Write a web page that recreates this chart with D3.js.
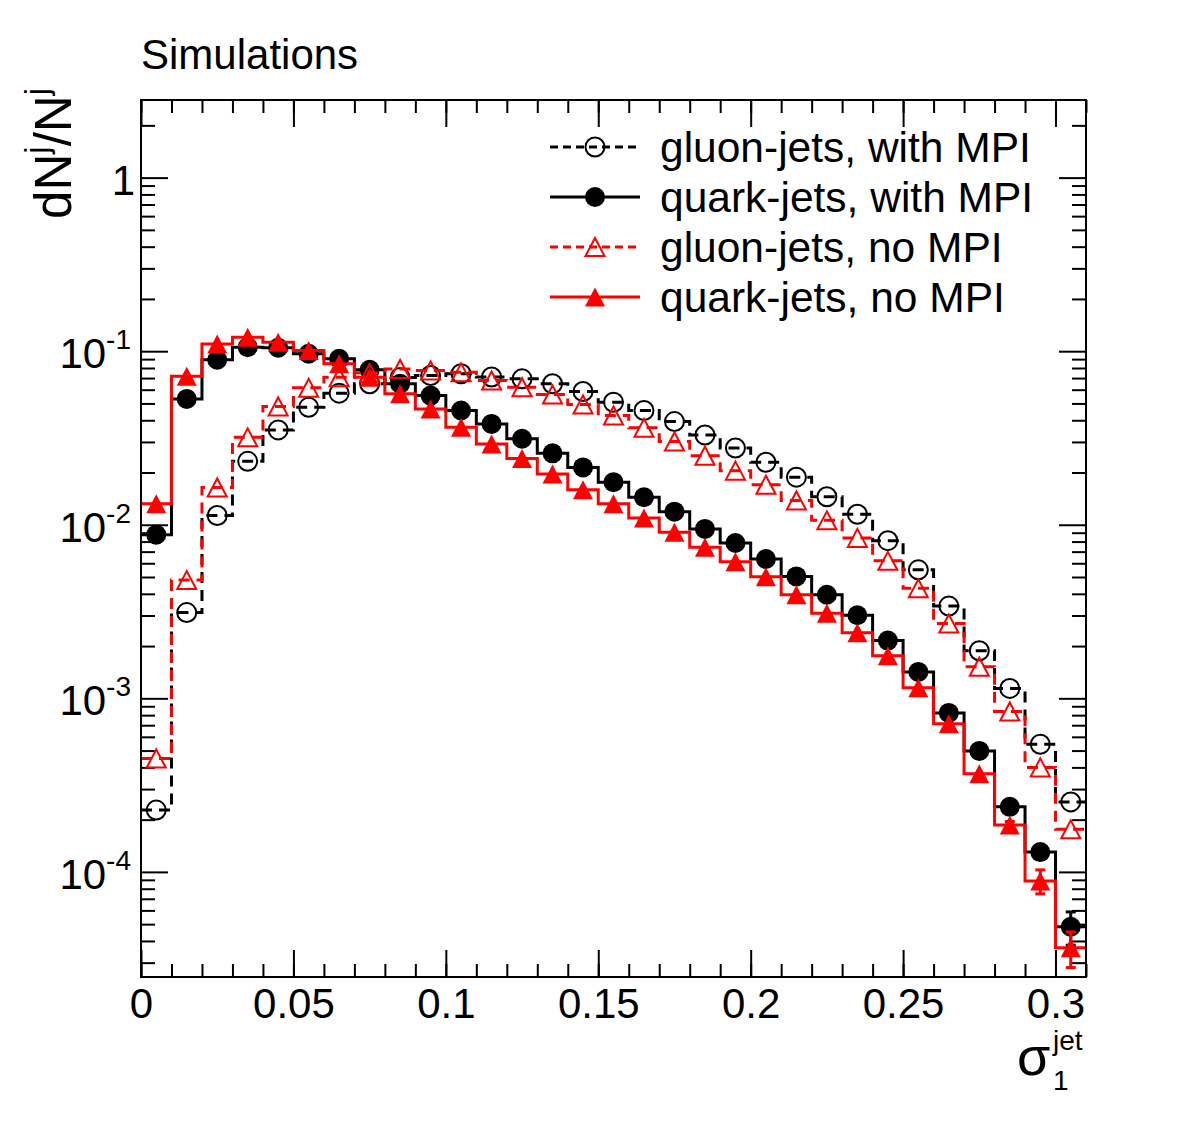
<!DOCTYPE html>
<html>
<head>
<meta charset="utf-8">
<script src="https://cdn.jsdelivr.net/npm/d3@7"></script>
<style>
  body { margin: 0; background: #fff; }
  text { font-family: "Liberation Sans", Arial, Helvetica, sans-serif; fill: #000; }
</style>
</head>
<body>
<div id="chart"></div>
<script>
// sigma_1^jet distributions, bins of width 0.01 starting at 0 (31 bins)
var binWidth = 0.01;

var gluonMpi = [2.27e-4, 3.12e-3, 0.0113, 0.0232, 0.0352, 0.0475, 0.0573, 0.0649, 0.0705, 0.0724,
                0.0741, 0.0710, 0.0693, 0.0649, 0.0586, 0.0508, 0.0455, 0.0393, 0.0329, 0.0277,
                0.0229, 0.0188, 0.0145, 0.0115, 0.0081, 0.0055, 0.0034, 0.00188, 0.00114, 5.44e-4, 2.53e-4];
var quarkMpi = [0.00877, 0.0531, 0.0892, 0.1055, 0.1047, 0.0966, 0.0904, 0.0781, 0.0649, 0.0555,
                0.0455, 0.0381, 0.0313, 0.0258, 0.0214, 0.0176, 0.0144, 0.0119, 0.00946, 0.00785,
                0.00635, 0.00504, 0.00395, 0.00301, 0.00215, 0.00142, 8.24e-4, 4.98e-4, 2.37e-4, 1.30e-4, 4.83e-5];
var gluonNoMpi = [4.5e-4, 4.8e-3, 0.0164, 0.0319, 0.048, 0.0615, 0.0708, 0.075, 0.079, 0.0774,
                  0.0756, 0.0678, 0.062, 0.0563, 0.0493, 0.0426, 0.0362, 0.0302, 0.025, 0.0205,
                  0.017, 0.0138, 0.0106, 0.0084, 0.0062, 0.0043, 0.0027, 0.00152, 8.4e-4, 4.0e-4, 1.76e-4];
var quarkNoMpi = [0.0132, 0.0717, 0.110, 0.1205, 0.1127, 0.1009, 0.0846, 0.0708, 0.0568, 0.0465,
                  0.0365, 0.0292, 0.0241, 0.0196, 0.0159, 0.0132, 0.01095, 0.00904, 0.00741, 0.00613,
                  0.00502, 0.00395, 0.00309, 0.00239, 0.00176, 0.00115, 7.13e-4, 3.68e-4, 1.86e-4, 8.87e-5, 3.66e-5];

// statistical errors, only the last bins are big enough to show
var quarkMpiErr = [0,0,0,0,0,0,0,0,0,0, 0,0,0,0,0,0,0,0,0,0, 0,0,0,0,0,0,0,0,0, 0.8e-5, 1.05e-5];
var quarkNoMpiErr = [0,0,0,0,0,0,0,0,0,0, 0,0,0,0,0,0,0,0,0,0, 0,0,0,0,0,0,0,0, 0.9e-5, 1.4e-5, 0.85e-5];

var legendLabels = ["gluon-jets, with MPI", "quark-jets, with MPI", "gluon-jets, no MPI", "quark-jets, no MPI"];

var xMajorTicks = [0, 0.05, 0.1, 0.15, 0.2, 0.25, 0.3];
var xTickLabels = ["0", "0.05", "0.1", "0.15", "0.2", "0.25", "0.3"];
var yMajorTicks = [1e-4, 1e-3, 1e-2, 1e-1, 1];
var yTickLabels = ["10^-4", "10^-3", "10^-2", "10^-1", "1"];

var width = 1182, height = 1123;
var plotLeft = 141, plotRight = 1086, plotTop = 100, plotBottom = 977;

var svg = d3.select("#chart").append("svg")
    .attr("width", width)
    .attr("height", height);

svg.append("rect").attr("width", width).attr("height", height).attr("fill", "#fff");

var x = d3.scaleLinear().domain([0, 0.31]).range([plotLeft, plotRight]);
var y = d3.scaleLog().domain([2.48e-5, 2.8]).range([plotBottom, plotTop]);

var xMinorTicks = d3.range(0, 32).map(function(i) { return +(i * binWidth).toFixed(2); });
var yMinorTicks = [];
[-5, -4, -3, -2, -1, 0].forEach(function(e) {
    for (var k = 2; k <= 9; k++) {
        var v = k * Math.pow(10, e);
        if (v > y.domain()[0] && v < y.domain()[1]) yMinorTicks.push(v);
    }
});

function styleAxis(g) {
    g.select(".domain").remove();
    g.selectAll("line").attr("stroke", "#000").attr("stroke-width", 2);
    g.attr("font-family", null).attr("font-size", 42);
}

// ---- axes: ticks point into the frame on all four sides
svg.append("g").attr("transform", "translate(0," + plotBottom + ")")
    .call(d3.axisBottom(x).tickValues(xMinorTicks).tickSize(-13).tickFormat(""))
    .call(styleAxis);
svg.append("g").attr("transform", "translate(0," + plotBottom + ")")
    .call(d3.axisBottom(x).tickValues(xMajorTicks).tickSize(-27).tickPadding(11)
        .tickFormat(function(d, i) { return xTickLabels[i]; }))
    .call(styleAxis);
svg.append("g").attr("transform", "translate(0," + plotTop + ")")
    .call(d3.axisTop(x).tickValues(xMinorTicks).tickSize(-13).tickFormat(""))
    .call(styleAxis);
svg.append("g").attr("transform", "translate(0," + plotTop + ")")
    .call(d3.axisTop(x).tickValues(xMajorTicks).tickSize(-27).tickFormat(""))
    .call(styleAxis);

svg.append("g").attr("transform", "translate(" + plotLeft + ",0)")
    .call(d3.axisLeft(y).tickValues(yMinorTicks).tickSize(-14).tickFormat(""))
    .call(styleAxis);
svg.append("g").attr("transform", "translate(" + plotLeft + ",0)")
    .call(d3.axisLeft(y).tickValues(yMajorTicks).tickSize(-27).tickFormat(""))
    .call(styleAxis);
svg.append("g").attr("transform", "translate(" + plotRight + ",0)")
    .call(d3.axisRight(y).tickValues(yMinorTicks).tickSize(-14).tickFormat(""))
    .call(styleAxis);
svg.append("g").attr("transform", "translate(" + plotRight + ",0)")
    .call(d3.axisRight(y).tickValues(yMajorTicks).tickSize(-27).tickFormat(""))
    .call(styleAxis);

// y tick labels with superscript exponents
yMajorTicks.forEach(function(v, i) {
    var parts = yTickLabels[i].split("^");
    var t = svg.append("text")
        .attr("x", parts[1] ? 131 : 135)
        .attr("y", y(v) + 17)
        .attr("text-anchor", "end")
        .attr("font-size", 42);
    t.append("tspan").text(parts[0]);
    if (parts[1]) {
        t.append("tspan").attr("font-size", 28).attr("dy", -19).text(parts[1]);
    }
});

// ---- histograms
var series = [
    {values: gluonMpi, color: "#000", dash: "11,7", marker: "circle", filled: false},
    {values: quarkMpi, color: "#000", dash: null, marker: "circle", filled: true, err: quarkMpiErr},
    {values: gluonNoMpi, color: "#f00", dash: "11,7", marker: "triangle", filled: false},
    {values: quarkNoMpi, color: "#f00", dash: null, marker: "triangle", filled: true, err: quarkNoMpiErr}
];

var stepLine = d3.line()
    .x(function(d) { return x(d[0]); })
    .y(function(d) { return y(d[1]); })
    .curve(d3.curveStepAfter);

function drawMarker(g, s, cx, cy) {
    if (s.marker === "circle") {
        g.append("circle")
            .attr("cx", cx).attr("cy", cy).attr("r", s.filled ? 10 : 9.5)
            .attr("fill", s.filled ? s.color : "none")
            .attr("stroke", s.color)
            .attr("stroke-width", s.filled ? 0 : 2);
    } else {
        var r = s.filled ? 10 : 9.5, h = s.filled ? 9.5 : 9;
        g.append("path")
            .attr("d", "M" + (cx - r) + "," + (cy + h) + "L" + (cx + r) + "," + (cy + h) +
                       "L" + cx + "," + (cy - h) + "Z")
            .attr("fill", s.filled ? s.color : "none")
            .attr("stroke", s.color)
            .attr("stroke-width", s.filled ? 0 : 2)
            .attr("stroke-linejoin", "miter");
    }
}

var plot = svg.append("g");

series.forEach(function(s) {
    var g = plot.append("g");
    var pts = s.values.map(function(v, i) { return [i * binWidth, v]; });
    pts.push([s.values.length * binWidth, s.values[s.values.length - 1]]);

    g.append("path")
        .datum(pts)
        .attr("d", stepLine)
        .attr("fill", "none")
        .attr("stroke", s.color)
        .attr("stroke-width", 3)
        .attr("stroke-dasharray", s.dash);

    s.values.forEach(function(v, i) {
        var cx = x((i + 0.5) * binWidth), cy = y(v);
        if (s.err && s.err[i] > 0) {
            var y1 = y(v + s.err[i]), y2 = y(v - s.err[i]);
            g.append("line").attr("x1", cx).attr("x2", cx).attr("y1", y1).attr("y2", y2)
                .attr("stroke", s.color).attr("stroke-width", 3);
            [y1, y2].forEach(function(yy) {
                g.append("line").attr("x1", cx - 5).attr("x2", cx + 5).attr("y1", yy).attr("y2", yy)
                    .attr("stroke", s.color).attr("stroke-width", 3);
            });
        }
        drawMarker(g, s, cx, cy);
    });
});

// frame
svg.append("rect")
    .attr("x", plotLeft).attr("y", plotTop)
    .attr("width", plotRight - plotLeft).attr("height", plotBottom - plotTop)
    .attr("fill", "none").attr("stroke", "#000").attr("stroke-width", 2);

// ---- legend
var legend = svg.append("g");
series.forEach(function(s, i) {
    var cy = 147 + i * 50;
    legend.append("line")
        .attr("x1", 550).attr("x2", 640).attr("y1", cy).attr("y2", cy)
        .attr("stroke", s.color).attr("stroke-width", 3)
        .attr("stroke-dasharray", s.dash ? "8,5" : null);
    drawMarker(legend, s, 595, cy);
    legend.append("text")
        .attr("x", 660).attr("y", cy + 15)
        .attr("font-size", 42.5)
        .text(legendLabels[i]);
});

// ---- titles
svg.append("text")
    .attr("x", 141).attr("y", 69)
    .attr("font-size", 42)
    .text("Simulations");

var yTitle = svg.append("text")
    .attr("transform", "translate(71,88) rotate(-90)")
    .attr("text-anchor", "end")
    .attr("font-size", 51);
yTitle.append("tspan").text("dN");
yTitle.append("tspan").attr("font-size", 33).attr("dy", -23).text("j");
yTitle.append("tspan").attr("dy", 23).text("/N");
yTitle.append("tspan").attr("font-size", 33).attr("dy", -23).text("j");

svg.append("text")
    .attr("x", 1017).attr("y", 1075)
    .attr("font-family", "'Liberation Serif', 'Times New Roman', serif")
    .attr("font-size", 54)
    .text("σ");
svg.append("text").attr("x", 1053).attr("y", 1050).attr("font-size", 28).text("jet");
svg.append("text").attr("x", 1053).attr("y", 1090).attr("font-size", 28).text("1");
</script>
</body>
</html>
